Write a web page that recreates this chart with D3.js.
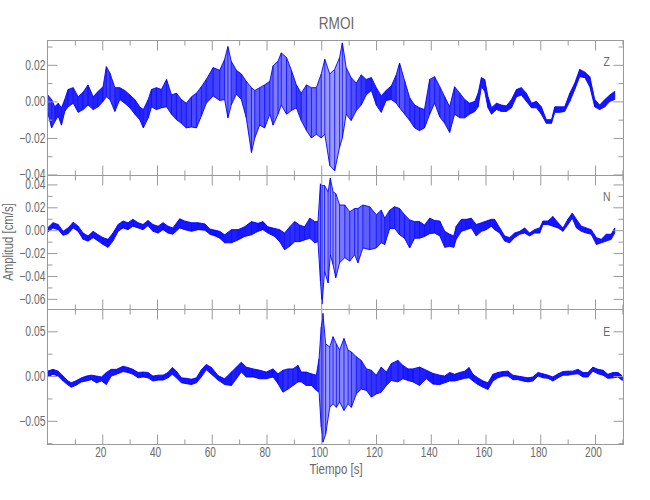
<!DOCTYPE html>
<html><head><meta charset="utf-8">
<script src="https://cdn.jsdelivr.net/npm/d3@7/dist/d3.min.js"></script>
<style>
html,body{margin:0;padding:0;background:#fff;}
svg text{font-family:"Liberation Sans",Arial,sans-serif;fill:#6a6a6a;}
</style></head>
<body><svg id="c" width="650" height="500"></svg>
<script>
// values in units of 0.01 cm/s
const UNIT = 0.01;
const title = "RMOI";
const xLabel = "Tiempo [s]";
const yLabel = "Amplitud [cm/s]";
const xMajorTicks = [20,40,60,80,100,120,140,160,180,200];
const xMinorTicks = [10,30,50,70,90,110,130,150,170,190,210];

// Z component: time (s), upper and lower envelope
const zT  = [0,1.5,2.7,3.9,5.1,6.3,7.5,9.4,11.2,13,14.8,16.7,18.5,20.3,21.5,22.8,24.6,26.4,28.2,30.1,31.9,33.7,35,36.8,38,39.8,41.6,43.5,45.3,47.1,48.9,50.7,52.6,54.4,56.2,58,60.5,62.9,64.7,65.9,67.1,69,70.8,72.6,74.5,75.7,77.5,79.3,81.2,82.4,84.2,85.4,87.3,89.1,90.9,92.7,94.6,96.4,98.2,100,101.3,103.1,104.9,106.7,107.7,109.1,110.9,112.8,114.6,116.4,118.3,120.1,121.9,123.7,125.6,127.4,128.6,130.5,132.3,134.1,135.9,137.7,139.6,141.4,143.3,145.1,146.9,148.7,150.6,152.4,154.2,156.1,157.3,158.5,159.7,160.9,162.2,164,165.8,167.6,169.5,171.3,173.1,174.9,176.8,178.6,180.4,182.2,184.1,185.3,187.1,188.9,190.8,192.6,194.4,196.3,198.1,199.9,201.7,203.6,205.4,207.2];
const zHi = [0.37,0.1,-0.3,-0.1,-0.35,0.1,0.65,0.75,0.25,0.5,0.9,0.25,0.55,0.8,1.9,1.55,0.75,0.75,0.6,0.35,0.1,-0.3,-0.45,0.1,0.65,0.75,0.65,1.2,0.35,0.45,0.1,-0.1,0.25,0.45,0.8,1.2,1.85,1.7,2.3,3.0,2.2,1.7,1.5,1.1,0.75,0.6,0.75,0.9,1.1,1.95,2.2,2.65,2.4,1.7,0.9,0.45,0.9,0.75,0.75,1.5,2.3,1.5,1.75,2.4,3.2,1.85,1.3,1.0,1.45,1.2,1.3,0.75,0.3,0.6,0.85,1.45,2.1,1.1,0.2,-0.2,-0.35,-0.45,1.2,1.35,0.8,0.25,-0.3,0.8,0.45,0.1,-0.1,0,0.45,1.3,1.2,0.25,-0.35,-0.1,-0.2,-0.25,0.1,0.65,0.75,0.45,-0.1,0,-0.3,-1.0,-1.0,-0.3,-0.3,-0.3,0.45,1.0,1.75,1.6,1.35,0.1,-0.2,0.1,0.35,0.55];
const zLo = [-0.56,-1.45,-1.1,-0.8,-1.3,-0.55,-0.3,-0.1,-0.6,-0.45,-0.2,-0.45,-0.3,0,0.25,0.1,-0.55,0.1,-0.1,-0.35,-0.7,-1.0,-1.45,-0.9,-0.3,-0.45,-0.35,-0.3,-0.7,-1.0,-1.2,-1.45,-1.4,-1.45,-0.8,-0.1,0.3,0.05,0.1,-0.9,-0.2,0.4,0.1,-0.9,-2.8,-2.0,-1.3,-1.45,-0.7,-1.3,-0.7,-0.2,-0.7,-0.5,-0.35,-1.05,-1.6,-2.0,-1.8,-2.0,-1.8,-3.5,-3.8,-2.5,-2.0,-0.7,-1.05,-0.5,-0.2,0.35,0.6,-0.2,-0.6,0.05,0.1,-0.1,-0.35,-0.7,-1.05,-1.45,-1.6,-1.45,-0.7,-0.1,-0.85,-1.2,-1.7,-0.7,-0.9,-0.9,-0.7,-0.55,-0.3,0.8,0.55,-0.35,-0.7,-0.45,-0.55,-0.55,-0.35,0.25,0.35,0,-0.35,-0.35,-0.7,-1.2,-1.2,-0.6,-0.6,-0.55,0,0.65,1.35,1.3,0.8,-0.3,-0.45,-0.3,0,0.1];

// N component
const nT  = [0,2,3.9,5.7,7.5,9.4,11.2,13,14.8,16.7,18.5,20.3,22.1,23.9,25.8,27.6,29.4,31.2,33.1,34.9,36.7,38.5,40.4,42.2,44,45.8,48.3,50.1,52.6,55,57.5,59.3,61.2,62.9,64.7,67.2,69.6,72,74.5,76.9,78.7,80.5,83,84.8,86.6,88.5,90.3,92.1,93.9,95.8,97.6,98.8,99.7,100.3,101.2,102.5,103.3,104.3,105.3,106.7,108.6,110.4,112.2,113.4,115.2,117.7,120.1,121.9,123.2,125,126.8,128.6,130.4,132.3,134.1,135.9,137.7,139.6,141.4,143.3,145.1,146.9,148.4,149.3,151.2,153,154.8,156.6,158.5,160.3,162.1,163.3,165.2,167,168.8,170.6,172.5,174.3,176.1,177.9,179.8,181,182.8,184.6,186.5,188.3,190.1,191.7,193.2,195,196.8,198.6,200.5,202.3,204.1,205.9,207.2];
const nHi = [0.2,0.65,0.5,-0.1,0.2,0.7,0.35,-0.25,-0.5,-0.1,-0.4,-0.65,-0.8,-0.25,0.5,0.8,0.65,0.95,0.65,0.5,0.85,0.5,0.35,0.65,0.35,0.2,1.0,0.8,0.65,0.65,0.55,0.1,0,-0.1,-0.4,0.05,0.05,0.3,0.75,0.6,0.75,0.3,0.15,0.05,-0.25,0.3,0.75,0.45,0.3,1.05,0.75,0.75,4.05,3.9,3.9,3.35,4.55,3.35,3.2,2.2,2.2,1.6,1.9,1.9,2.2,2.05,1.35,1.75,1.05,1.75,2.05,1.9,1.35,0.9,0.75,0.75,0.45,1.05,0.85,0.8,-0.1,-0.35,-0.5,0.35,0.95,0.95,1.05,0.5,0.65,0.8,0.95,0.95,0.2,-0.5,-0.65,-0.25,-0.1,0.2,-0.25,0.05,0.2,0.8,0.8,1.2,0.65,0.2,0.95,1.5,0.95,0.35,0.2,0.05,-0.65,-0.8,-0.35,-0.35,0.2];
const nLo = [-0.17,0.2,0.05,-0.45,-0.3,0.2,-0.1,-0.8,-0.95,-0.65,-0.95,-1.25,-1.5,-0.95,-0.1,0.2,0.05,0.35,0.2,0.05,0.4,-0.1,-0.25,0.05,-0.25,-0.35,0.2,0.05,-0.1,0.05,0,-0.35,-0.5,-0.7,-1.1,-1.1,-0.85,-0.55,-0.4,-0.1,0.05,-0.25,-0.55,-1.0,-1.7,-1.4,-1.0,-1.0,-0.85,-0.7,-1.1,-1.0,-4.45,-6.45,-3.6,-4.6,-2.15,-3.0,-4.15,-2.85,-2.4,-2.7,-2.15,-2.85,-1.55,-1.7,-1.55,-1.1,-1.25,0.15,0.15,-0.4,-0.7,-1.55,-0.7,-0.7,-0.55,-0.3,-0.25,-0.5,-1.5,-1.4,-1.5,-0.8,-0.1,0.05,0.2,-0.5,-0.1,0.05,0.35,0.05,-0.25,-0.95,-1.1,-0.65,-0.35,-0.25,-0.5,-0.25,-0.25,0.5,0.5,0.35,0.2,-0.1,0.5,1.05,0.2,-0.1,-0.25,-0.35,-1.25,-1.1,-0.95,-0.8,-0.25];

// E component
const eT  = [0,2,3.9,5.7,7.5,8.7,10.6,12.4,14.2,16,17.9,19.7,21.5,23.3,25.2,27.6,29.4,31.2,33.1,34.9,36.7,38.5,40.4,42.2,44,45.6,47.1,48.9,50.7,52.6,54.4,56.2,58,59.9,62.3,64.7,67.2,69,70.8,72.6,75.1,77.5,79.9,82.4,84.2,86,87.9,89.7,91.5,92.7,94.5,96.4,98.2,99.2,100,100.6,101.6,103.1,104.3,105.5,106.7,108.3,109.8,111,112.8,114.6,116.5,118.3,120.1,121.9,123.8,125.6,128,129.8,131.7,133.5,135.9,138.4,140.8,143.3,145.1,146.9,148.7,150.6,152.4,154,155.4,157.2,159.1,160.9,162.7,164.5,166.4,168.2,170,171.8,173.7,175.5,177.3,179.2,181,182.8,184.6,186.5,188.3,190.1,191.9,193.8,195.6,197.4,199.2,201.1,202.9,204.7,206.6,208.4,210];
const eHi = [0.55,0.75,0.55,0,-0.55,-0.75,-0.5,-0.2,0,0.1,0,-0.1,0.4,0.75,0.75,1.1,0.95,0.75,0.4,0.45,0.4,0,0.1,0.1,0.4,0.95,0.55,-0.2,-0.25,-0.35,-0.2,0.7,1.3,0.95,0.05,-0.3,0.45,1.0,1.55,1.0,0.8,0.65,0.45,0.8,0.25,0.65,0.8,0.8,1.2,0.45,0.45,0.25,0.1,1.95,5.5,7.0,3.6,3.25,4.4,3.6,2.9,4.2,2.9,2.7,2.15,1.75,0.8,0.65,0.1,1.0,0.45,1.4,1.75,1.2,0.8,0.8,1.0,0.65,0.3,0.1,0,0.4,0.2,0.4,0.55,0.95,0.2,-0.2,-0.55,-0.75,0.2,0.4,0.5,0.55,0.1,0,-0.1,-0.2,-0.1,0.4,0.25,0.1,-0.1,0.25,0.5,0.55,0.55,0.75,0.4,0.4,1.0,0.75,0.65,0.2,0.4,0.4,0];
const eLo = [-0.1,0.2,0,-0.55,-1.0,-1.25,-1.0,-0.65,-0.55,-0.4,-0.75,-0.55,-0.95,0,0.2,0.5,0.4,0.2,-0.2,-0.1,-0.2,-0.55,-0.45,-0.45,-0.2,0.2,-0.2,-0.75,-0.85,-0.95,-0.75,-0.1,0.7,0.2,-0.45,-0.95,-1.05,-0.3,0.45,-0.1,-0.1,-0.3,-0.3,-0.1,-0.85,-1.8,-1.45,-1.05,-0.65,-0.65,-1.05,-1.05,-1.6,-1.8,-5.7,-7.4,-6.5,-3.5,-3.1,-3.5,-2.9,-3.85,-3.1,-3.5,-2.0,-1.45,-1.6,-2.35,-2.0,-1.8,-1.05,-0.5,-0.65,-0.3,-0.5,-0.65,-1.05,-0.3,-0.9,-0.95,-0.75,-0.55,-0.55,-0.4,-0.25,-0.2,-0.55,-0.95,-1.25,-1.5,-0.55,-0.2,0,0,-0.4,-0.4,-0.55,-0.65,-0.55,0,-0.2,-0.25,-0.55,-0.2,0.1,0.1,0.2,0.25,-0.1,-0.1,0.55,0.25,0.1,-0.25,-0.2,-0.1,-0.5];

const panels = [
  {name:"Z", t:zT, hi:zHi, lo:zLo, domain:[-0.04055,0.0333], major:[-0.04,-0.02,0,0.02], minor:[-0.03,-0.01,0.01,0.03]},
  {name:"N", t:nT, hi:nHi, lo:nLo, domain:[-0.0693,0.0478], major:[-0.06,-0.04,-0.02,0,0.02,0.04], minor:[-0.05,-0.03,-0.01,0.01,0.03]},
  {name:"E", t:eT, hi:eHi, lo:eLo, domain:[-0.0765,0.0744], major:[-0.05,0,0.05], minor:[-0.075,-0.025,0.025]}
];

const svg = d3.select("#c");
const L = 47.5, R = 623.5;
const bounds = [40.5, 175.5, 309.5, 444.5];
const x = d3.scaleLinear().domain([0, 210.4]).range([L, R]);
const axisColor = "#9a9a9a";
const blue = "#0000ff";
const fmt = d3.format(".2f");
// wider envelopes (sparser oscillation) are drawn lighter
const density = d3.scaleLinear().domain([8, 70]).range([0.92, 0.4]).clamp(true);

function txt(parent, s, tx, ty, size, anchor, sx, rot) {
  return parent.append("text")
    .attr("transform", `translate(${tx},${ty}) rotate(${rot || 0}) scale(${sx},1)`)
    .attr("text-anchor", anchor).style("font-size", size + "px").text(s);
}
function styleAxis(g){
  g.select(".domain").remove();
  g.selectAll(".tick line").attr("stroke", axisColor);
}

panels.forEach((p, i) => {
  const top = bounds[i], bot = bounds[i+1];
  const y = d3.scaleLinear().domain(p.domain).range([bot, top]);
  const g = svg.append("g");

  const clipId = "clip" + i;
  svg.append("clipPath").attr("id", clipId).append("rect")
    .attr("x", L).attr("y", top).attr("width", R - L).attr("height", bot - top);
  const tr = g.append("g").attr("clip-path", `url(#${clipId})`);

  const pts = p.t.map((t, k) => ({t, hi: p.hi[k] * UNIT, lo: p.lo[k] * UNIT}));
  const segs = d3.pairs(pts);
  const area = d3.area().x(d => x(d.t)).y0(d => y(d.lo)).y1(d => y(d.hi));
  tr.selectAll("path.seg").data(segs).join("path").attr("class", "seg")
    .attr("d", s => area(s))
    .attr("fill", blue)
    .attr("fill-opacity", s => density(((y(s[0].lo) - y(s[0].hi)) + (y(s[1].lo) - y(s[1].hi))) / 2))
    .attr("stroke", "none");
  // min/max sweep at each sample
  tr.selectAll("line.mm").data(pts).join("line").attr("class", "mm")
    .attr("x1", d => x(d.t)).attr("x2", d => x(d.t))
    .attr("y1", d => y(d.hi)).attr("y2", d => y(d.lo))
    .attr("stroke", blue).attr("stroke-width", 0.8);
  tr.append("path").datum(pts).attr("d", d3.line().x(d => x(d.t)).y(d => y(d.hi)))
    .attr("fill", "none").attr("stroke", blue).attr("stroke-width", 0.9);
  tr.append("path").datum(pts).attr("d", d3.line().x(d => x(d.t)).y(d => y(d.lo)))
    .attr("fill", "none").attr("stroke", blue).attr("stroke-width", 0.9);

  // y axes (ticks inward), labels drawn from the same scale
  [[L, d3.axisLeft], [R, d3.axisRight]].forEach(([xx, ax]) => {
    const a = g.append("g").attr("transform", `translate(${xx},0)`)
      .call(ax(y).tickValues(p.major).tickSize(-10).tickFormat(""));
    styleAxis(a);
    const b = g.append("g").attr("transform", `translate(${xx},0)`)
      .call(ax(y).tickValues(p.minor).tickSize(-5).tickFormat(""));
    styleAxis(b);
  });
  p.major.forEach(v => txt(g, fmt(v), L - 2, y(v) + 5, 14, "end", 0.74));

  // x ticks top and bottom
  [[top, d3.axisTop], [bot, d3.axisBottom]].forEach(([yy, ax]) => {
    const gm = g.append("g").attr("transform", `translate(0,${yy})`)
      .call(ax(x).tickValues(xMajorTicks).tickSize(-10).tickFormat(""));
    styleAxis(gm);
    const gn = g.append("g").attr("transform", `translate(0,${yy})`)
      .call(ax(x).tickValues(xMinorTicks).tickSize(-5).tickFormat(""));
    styleAxis(gn);
  });
  if (i === 2) xMajorTicks.forEach(v => txt(g, String(v), x(v) - 1.5, 456.5, 14, "middle", 0.72));

  // frame
  g.append("rect").attr("x", L).attr("y", top).attr("width", R - L).attr("height", bot - top)
    .attr("fill", "none").attr("stroke", axisColor).attr("stroke-width", 1);

  // component label
  txt(svg, p.name, 606.7, [65.7, 200.7, 335.7][i], 13, "middle", 0.8);
});

txt(svg, title, 336.5, 29, 17, "middle", 0.8);
txt(svg, xLabel, 336, 474, 14, "middle", 0.82);
txt(svg, yLabel, 13, 242, 14, "middle", 0.81, -90);
</script></body></html>
